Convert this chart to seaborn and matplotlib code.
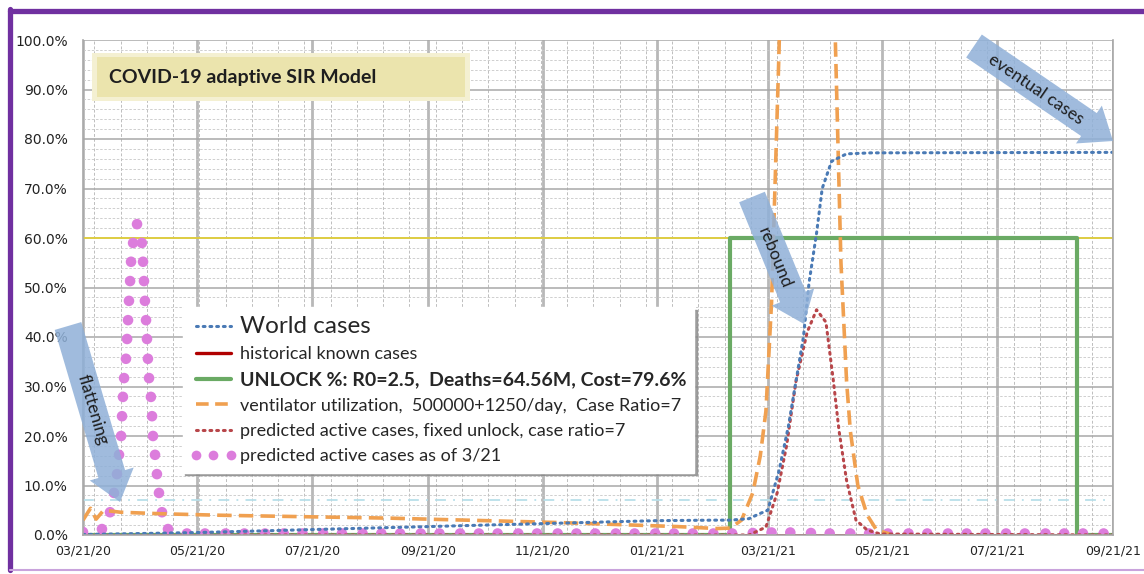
import math

import matplotlib
matplotlib.use("Agg")
import matplotlib.dates as mdates
import matplotlib.pyplot as plt
import matplotlib.ticker as mticker
import pandas as pd
import seaborn as sns
from matplotlib.lines import Line2D
from matplotlib.patches import FancyArrowPatch, Rectangle

START = pd.Timestamp("2020-03-21")
END = pd.Timestamp("2021-09-21")

# all x values are days after 03/21/20, y values are percent
world_days = [0, 31, 61, 92, 122, 153, 184, 214, 245, 275, 306, 337, 345, 355, 360, 365,
              371, 376, 380, 384, 387, 391, 394, 399, 407, 420, 549]
world_pct = [0.1, 0.3, 0.5, 0.8, 1.1, 1.4, 1.7, 2.0, 2.3, 2.6, 2.9, 3.0, 3.0, 3.3, 4.2, 5.0,
             13, 22, 31, 40, 51, 61, 70, 75.5, 77.0, 77.2, 77.3]

known_days = [0, 549]
known_pct = [0.1, 0.1]

unlock_days = [0, 345, 345, 530, 530, 549]
unlock_pct = [0, 0, 60, 60, 0, 0]

vent_days = [0, 4, 7, 11, 20, 41, 72, 102, 133, 164, 194, 225, 255, 286, 317, 338, 345,
             351, 357, 361, 364, 367, 371, 374, 380, 386, 392, 398, 401, 404, 407, 409,
             413, 418, 423, 430]
vent_pct = [3.0, 5.4, 3.2, 5.0, 4.6, 4.3, 4.0, 3.8, 3.6, 3.4, 3.1, 2.8, 2.5, 2.1, 1.7, 1.3, 1.4,
            3.0, 8.5, 16, 25, 47, 98, 150, 210, 230, 200, 140, 100, 55, 31, 21,
            10, 4, 1, 0.2]

fixed_days = [0, 355, 364, 370, 375, 380, 386, 391, 396, 400, 403, 407, 412, 418, 425, 549]
fixed_pct = [0, 0, 1.6, 8.5, 18, 31, 41, 45.5, 43, 31, 21, 11, 3, 1, 0.2, 0]

pred321_days = [0, 10.1, 14.4, 16.5, 18.1, 19.2, 20.3, 20.8, 21.3, 21.9, 22.9, 23.5, 24.0,
                24.5, 25.1, 25.6, 26.7, 28.8, 31.4, 32.0, 32.5, 33.0, 33.6, 34.1, 34.6,
                35.2, 36.2, 36.8, 37.3, 38.4, 39.4, 40.5, 42.1, 45.3, 55.4,
                65, 76, 86, 97, 107, 117, 128, 138, 149, 159, 169, 180, 190, 201, 211, 221,
                232, 242, 253, 263, 273, 284, 294, 305, 315, 325, 336, 346, 357, 367, 377,
                388, 398, 409, 419, 429, 440, 450, 461, 471, 481, 492, 502, 513, 523, 533, 544]
pred321_pct = [0.6, 1.2, 4.6, 8.5, 12.3, 16.2, 20, 24, 27.9, 31.7, 35.6, 39.6, 43.4,
               47.3, 51.3, 55.2, 59, 62.8, 59, 55.2, 51.3, 47.3, 43.4, 39.6, 35.6,
               31.7, 27.9, 24, 20, 16.2, 12.3, 8.5, 4.6, 1.2, 0.3,
               0.3, 0.3, 0.3, 0.3, 0.3, 0.3, 0.3, 0.3, 0.3, 0.3, 0.3, 0.3, 0.3, 0.3, 0.3, 0.3,
               0.3, 0.3, 0.3, 0.3, 0.3, 0.3, 0.3, 0.3, 0.3, 0.3, 0.3, 0.3, 0.4, 0.5, 0.5,
               0.4, 0.3, 0.3, 0.3, 0.3, 0.3, 0.3, 0.3, 0.3, 0.3, 0.3, 0.3, 0.3, 0.3, 0.3, 0.3]

threshold_pct = 60.0
capacity_pct = 7.0

labels = [
    "World cases",
    "historical known cases",
    "UNLOCK %: R0=2.5,  Deaths=64.56M, Cost=79.6%",
    "ventilator utilization,  500000+1250/day,  Case Ratio=7",
    "predicted active cases, fixed unlock, case ratio=7",
    "predicted active cases as of 3/21",
]

C_WORLD = "#4a7ab5"
C_KNOWN = "#b00000"
C_UNLOCK = "#6aaa64"
C_VENT = "#f0a050"
C_FIXED = "#b8464a"
C_PRED = "#dc7ddc"
C_ARROW = "#8fb0d8"


def frame(days, pct):
    return pd.DataFrame({"date": START + pd.to_timedelta(days, unit="D"), "pct": pct})


def px(x, y):
    return (x / 1144, 1 - y / 574)


sns.set_style("white")
plt.rcParams["font.family"] = ["Lato", "DejaVu Sans"]

fig = plt.figure(figsize=(11.44, 5.74), dpi=100)
ax = fig.add_axes([83 / 1144, 1 - 535 / 574, 1030 / 1144, 495 / 574])

dotted = (0, (0.6, 1.6))
line_kw = dict(ax=ax, estimator=None, sort=False, legend=False)

ax.axhline(capacity_pct, color="#b9dfe9", lw=1.3, ls=(0, (6, 4, 1, 4)), zorder=1.5)
ax.axhline(threshold_pct, color="#e2cf3a", lw=1.3, zorder=1.6)

sns.lineplot(data=frame(unlock_days, unlock_pct), x="date", y="pct", color=C_UNLOCK,
             lw=3, zorder=2, **line_kw)
sns.lineplot(data=frame(known_days, known_pct), x="date", y="pct", color=C_KNOWN,
             lw=2, zorder=2.1, **line_kw)
sns.scatterplot(data=frame(pred321_days, pred321_pct), x="date", y="pct", color=C_PRED,
                s=58, edgecolor="none", ax=ax, legend=False, zorder=2.2)
sns.lineplot(data=frame(vent_days, vent_pct), x="date", y="pct", color=C_VENT,
             lw=2.6, linestyle=(0, (4, 2)), zorder=2.3, **line_kw)
sns.lineplot(data=frame(fixed_days, fixed_pct), x="date", y="pct", color=C_FIXED,
             lw=2.2, linestyle=dotted, dash_capstyle="round", zorder=2.4, **line_kw)
sns.lineplot(data=frame(world_days, world_pct), x="date", y="pct", color=C_WORLD,
             lw=2.2, linestyle=dotted, dash_capstyle="round", zorder=2.5, **line_kw)

ax.set_xlim(START, END)
ax.set_ylim(0, 100)
ax.set_xlabel("")
ax.set_ylabel("")

ax.xaxis.set_major_locator(mdates.MonthLocator(bymonth=(1, 3, 5, 7, 9, 11), bymonthday=21))
ax.xaxis.set_major_formatter(mdates.DateFormatter("%m/%d/%y"))
minor_dates = pd.date_range("2020-03-27", END, freq="14D")
ax.xaxis.set_minor_locator(mticker.FixedLocator(mdates.date2num(minor_dates)))
ax.yaxis.set_major_locator(mticker.MultipleLocator(10))
ax.yaxis.set_minor_locator(mticker.MultipleLocator(2))
ax.yaxis.set_major_formatter(mticker.PercentFormatter(decimals=1))

ax.set_axisbelow(True)
ax.grid(which="major", axis="x", color="#b8b8b8", lw=2.0)
ax.grid(which="minor", axis="x", color="#bdbdbd", lw=0.7, ls=(0, (3, 2)))
ax.grid(which="major", axis="y", color="#a8a8a8", lw=1.1)
ax.grid(which="minor", axis="y", color="#c8c8c8", lw=0.6, ls=(0, (3, 2)))

ax.tick_params(axis="x", which="major", length=4, color="#a0a0a0", pad=2.5,
               labelsize=9, labelcolor="#222222")
ax.tick_params(axis="y", which="major", length=8, color="#a0a0a0", pad=3,
               labelsize=10, labelcolor="#222222")
ax.tick_params(which="minor", length=0)
for lab in ax.get_xticklabels() + ax.get_yticklabels():
    lab.set_family("DejaVu Sans")
for sp in ax.spines.values():
    sp.set_color("#a8a8a8")
    sp.set_linewidth(1.2)
ax.spines["top"].set_visible(False)

# legend
handles = [
    Line2D([], [], color=C_WORLD, lw=2.2, ls=dotted, dash_capstyle="round"),
    Line2D([], [], color=C_KNOWN, lw=2.4),
    Line2D([], [], color=C_UNLOCK, lw=3),
    Line2D([], [], color=C_VENT, lw=2.6, ls=(0, (3.5, 1.8))),
    Line2D([], [], color=C_FIXED, lw=2.2, ls=dotted, dash_capstyle="round"),
    Line2D([], [], color=C_PRED, ls="none", marker="o", ms=7, mec="none"),
]
leg = ax.legend(handles, labels, loc="upper left", bbox_to_anchor=(0.088, 0.478),
                fontsize=13, handlelength=2.5, handletextpad=0.2, labelspacing=0.52,
                borderpad=0.45, numpoints=3, frameon=True, fancybox=False,
                framealpha=1, edgecolor="white",
                shadow={"color": "#8a8a8a", "alpha": 0.8})
texts = leg.get_texts()
texts[0].set_fontsize(17.5)
texts[2].set_fontsize(14)
texts[2].set_fontweight("bold")
leg.set_zorder(5)

# title box
fig.add_artist(Rectangle(px(92, 101), 378 / 1144, 48 / 574, transform=fig.transFigure,
                         fc="#f4f0d2", ec="none", zorder=3))
fig.add_artist(Rectangle(px(97, 97), 368 / 1144, 40 / 574, transform=fig.transFigure,
                         fc="#ebe4ad", ec="none", zorder=3.1))
fig.text(*px(243, 77), "COVID-19 adaptive SIR Model", ha="center", va="center",
         fontsize=14, fontweight="bold", color="#1e1e1e", zorder=3.2)

# blue callout arrows
callouts = [
    ("flattening", (68, 326), (120, 502), (93, 410)),
    ("rebound", (752, 197), (804, 324), (775, 258)),
    ("eventual cases", (974, 46), (1113, 141), (1036, 89)),
]
for text, tail, tip, mid in callouts:
    fig.add_artist(FancyArrowPatch(px(*tail), px(*tip), transform=fig.transFigure,
                                   arrowstyle="simple,head_length=2.1,head_width=3.3,tail_width=2.0",
                                   mutation_scale=10, shrinkA=0, shrinkB=0,
                                   fc=C_ARROW, ec="none", alpha=0.85, zorder=4))
    ang = -math.degrees(math.atan2(tip[1] - tail[1], tip[0] - tail[0]))
    fig.text(*px(*mid), text, rotation=ang, rotation_mode="anchor", ha="center",
             va="center", fontsize=12.5, color="#1e1e1e", zorder=4.1)

# purple frame
fig.add_artist(Line2D([10 / 1144, 1.0], [1 - 10.5 / 574] * 2, transform=fig.transFigure,
                      color="#7030a0", lw=3.8))
fig.add_artist(Line2D([10 / 1144] * 2, [1 - 8.5 / 574, 1 - 570 / 574], transform=fig.transFigure,
                      color="#7030a0", lw=3.8))
fig.add_artist(Line2D([10 / 1144, 1.0], [1 - 570 / 574] * 2, transform=fig.transFigure,
                      color="#c9a3dc", lw=1.5))

fig.savefig("out.png", dpi=100)
